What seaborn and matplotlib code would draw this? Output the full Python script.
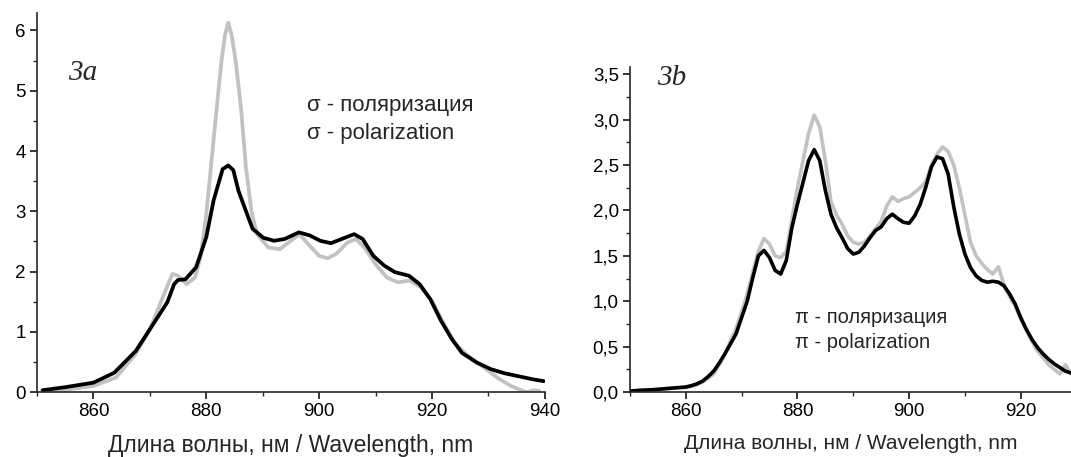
import matplotlib
matplotlib.use("Agg")
import matplotlib.pyplot as plt
import seaborn as sns
import pandas as pd
from matplotlib.ticker import MultipleLocator, FuncFormatter

# ---- panel 3a: sigma polarization ----
wl_a_black = [851, 855, 860, 863.7, 867.5, 870, 873.1, 874.3, 875, 876.3, 878.2, 880, 881.3, 882.9,
              883.9, 884.8, 885.7, 887, 888.2, 890.1, 892, 893.9, 896.4, 898.3, 900.2, 902.1, 904,
              906.2, 907.7, 909.6, 911.5, 913.4, 915.9, 917.8, 919.7, 921.6, 923.5, 925.3, 927.9,
              930.4, 932.9, 935.4, 937.9, 939.8]
int_a_black = [0.03, 0.08, 0.155, 0.32, 0.68, 1.04, 1.49, 1.79, 1.86, 1.87, 2.07, 2.57, 3.18, 3.70,
               3.76, 3.68, 3.34, 3.01, 2.71, 2.56, 2.51, 2.54, 2.65, 2.60, 2.51, 2.47, 2.54,
               2.62, 2.54, 2.26, 2.10, 1.99, 1.93, 1.79, 1.54, 1.18, 0.88, 0.65, 0.49,
               0.38, 0.31, 0.26, 0.21, 0.18]

wl_a_gray = [852, 856, 860, 864, 867.5, 870, 872.5, 874, 875, 876.5, 878, 879, 880, 881, 881.8, 882.7,
             883.3, 883.9, 884.5, 885.2, 886.2, 887, 888, 889, 891, 893, 895, 896.5, 898, 900, 901.5,
             903, 905, 906.5, 908, 910, 912, 914, 916, 918, 920, 922, 924, 926, 928, 930, 932, 934,
             936, 937, 938, 939]
int_a_gray = [0.01, 0.05, 0.10, 0.24, 0.63, 1.04, 1.62, 1.96, 1.93, 1.79, 1.90, 2.25, 2.95, 3.90, 4.67, 5.50,
              5.92, 6.13, 5.92, 5.50, 4.67, 3.75, 3.00, 2.62, 2.40, 2.37, 2.51, 2.62, 2.46, 2.26, 2.22,
              2.29, 2.48, 2.54, 2.40, 2.12, 1.90, 1.82, 1.85, 1.74, 1.51, 1.15, 0.82, 0.63, 0.49, 0.35,
              0.21, 0.10, 0.02, 0.0, 0.03, 0.02]

# ---- panel 3b: pi polarization ----
wl_b = list(range(850, 930))
int_b_black = [0.01, 0.015, 0.02, 0.022, 0.025, 0.03, 0.035, 0.04, 0.045, 0.05,
               0.055, 0.07, 0.09, 0.12, 0.17, 0.23, 0.32, 0.42, 0.53, 0.64,
               0.82, 1.00, 1.26, 1.50, 1.56, 1.48, 1.34, 1.30, 1.45, 1.81,
               2.07, 2.31, 2.55, 2.67, 2.55, 2.22, 1.96, 1.81, 1.70, 1.58,
               1.52, 1.54, 1.61, 1.70, 1.78, 1.82, 1.91, 1.96, 1.91, 1.87,
               1.86, 1.94, 2.07, 2.26, 2.48, 2.59, 2.57, 2.40, 2.04, 1.74,
               1.52, 1.37, 1.28, 1.23, 1.21, 1.22, 1.21, 1.17, 1.08, 0.97,
               0.82, 0.69, 0.58, 0.49, 0.42, 0.36, 0.31, 0.27, 0.23, 0.21]
int_b_gray = [0.01, 0.012, 0.015, 0.02, 0.025, 0.03, 0.035, 0.04, 0.045, 0.048,
              0.05, 0.06, 0.08, 0.11, 0.15, 0.20, 0.30, 0.42, 0.56, 0.70,
              0.88, 1.08, 1.32, 1.55, 1.69, 1.63, 1.50, 1.48, 1.55, 1.90,
              2.25, 2.55, 2.85, 3.05, 2.92, 2.55, 2.10, 1.95, 1.85, 1.72,
              1.65, 1.63, 1.65, 1.72, 1.80, 1.88, 2.05, 2.15, 2.10, 2.13,
              2.15, 2.20, 2.25, 2.32, 2.50, 2.62, 2.70, 2.65, 2.50, 2.25,
              1.95, 1.65, 1.50, 1.42, 1.35, 1.30, 1.38, 1.18, 1.05, 0.95,
              0.80, 0.68, 0.56, 0.45, 0.38, 0.30, 0.25, 0.20, 0.30, 0.20]

sns.set_style("ticks")
plt.rcParams["font.family"] = ["Liberation Sans", "DejaVu Sans"]

GRAY = "#c2c2c2"
BLACK = "#000000"

fig = plt.figure(figsize=(10.71, 4.57), dpi=100)
ax1 = fig.add_axes([0.0345, 0.1422, 0.4743, 0.8293])
ax2 = fig.add_axes([0.5882, 0.1422, 0.4118, 0.711])

df_a_g = pd.DataFrame({"wl": wl_a_gray, "I": int_a_gray})
df_a_b = pd.DataFrame({"wl": wl_a_black, "I": int_a_black})
df_b = pd.DataFrame({"wl": wl_b, "gray": int_b_gray, "black": int_b_black})

sns.lineplot(data=df_a_g, x="wl", y="I", ax=ax1, color=GRAY, lw=2.7)
sns.lineplot(data=df_a_b, x="wl", y="I", ax=ax1, color=BLACK, lw=2.7)
sns.lineplot(data=df_b, x="wl", y="gray", ax=ax2, color=GRAY, lw=2.6)
sns.lineplot(data=df_b, x="wl", y="black", ax=ax2, color=BLACK, lw=2.6)

ax1.set_xlim(850, 940)
ax1.set_ylim(0, 6.29)
ax2.set_xlim(850, 929)
ax2.set_ylim(0, 3.58)

ax1.xaxis.set_major_locator(MultipleLocator(20))
ax1.xaxis.set_minor_locator(MultipleLocator(10))
ax1.yaxis.set_major_locator(MultipleLocator(1))
ax1.yaxis.set_minor_locator(MultipleLocator(0.5))
ax2.xaxis.set_major_locator(MultipleLocator(20))
ax2.xaxis.set_minor_locator(MultipleLocator(10))
ax2.yaxis.set_major_locator(MultipleLocator(0.5))
ax2.yaxis.set_minor_locator(MultipleLocator(0.25))
ax2.yaxis.set_major_formatter(FuncFormatter(lambda v, p: f"{v:.1f}".replace(".", ",")))

for ax, xl_size in ((ax1, 16.5), (ax2, 15)):
    sns.despine(ax=ax)
    ax.spines["left"].set_linewidth(1.2)
    ax.spines["bottom"].set_linewidth(1.2)
    ax.tick_params(which="major", length=5, width=1.1, labelsize=13.5, pad=3, colors="black")
    ax.tick_params(which="minor", length=3, width=1.0)
    ax.set_ylabel("")
    ax.set_xlabel("Длина волны, нм / Wavelength, nm", fontsize=xl_size, labelpad=10)

ax1.text(0.061, 0.823, "3a", transform=ax1.transAxes, fontsize=21, style="italic",
         family="Liberation Serif", va="baseline")
ax2.text(0.061, 0.945, "3b", transform=ax2.transAxes, fontsize=21, style="italic",
         family="Liberation Serif", va="baseline")

ax1.text(0.531, 0.757, "σ - поляризация", transform=ax1.transAxes, fontsize=16, va="center")
ax1.text(0.531, 0.683, "σ - polarization", transform=ax1.transAxes, fontsize=16, va="center")
ax2.text(0.374, 0.228, "π - поляризация", transform=ax2.transAxes, fontsize=14.5, va="center")
ax2.text(0.374, 0.151, "π - polarization", transform=ax2.transAxes, fontsize=14.5, va="center")

fig.savefig("out.png", dpi=100)
